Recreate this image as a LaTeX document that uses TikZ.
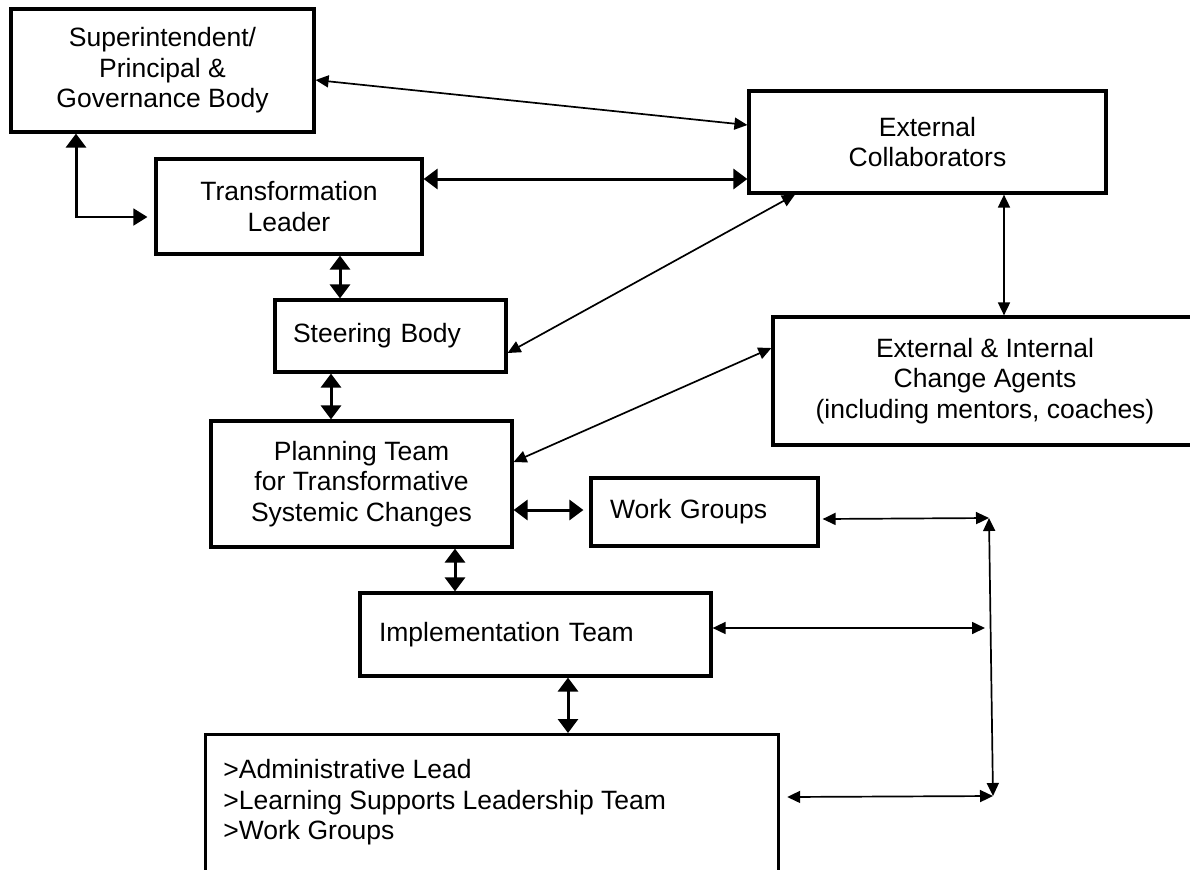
\documentclass[tikz,border=0pt]{standalone}
\usepackage{fontspec}
\setmainfont{Liberation Sans}
\usetikzlibrary{arrows.meta,calc}
\tikzset{
  box/.style={draw, line width=1.6pt, inner sep=0pt, align=center,
    font=\fontsize{13.25pt}{15.25pt}\selectfont},
  lbox/.style={box, align=left},
  txt/.style={inner sep=0pt, align=left, font=\fontsize{13.25pt}{15.25pt}\selectfont},
  thickarr/.style={line width=1.5pt,
    {Triangle[length=7pt,width=10pt]}-{Triangle[length=7pt,width=10pt]}},
  thinarr/.style={line width=0.85pt,
    {Triangle[length=6.5pt,width=6pt]}-{Triangle[length=6.5pt,width=6pt]}},
}
\begin{document}
\begin{tikzpicture}[x=0.5pt,y=-0.5pt]
\useasboundingbox (0,0) rectangle (1190,869);
\clip (0,0) rectangle (1190,869);

% boxes
\node[box, minimum width=151.5pt, minimum height=61.5pt] (supt) at (162.5,70.5)
  {Superintendent/\\Principal \&\\Governance Body};
\node[box, minimum width=133pt, minimum height=47.5pt] (tl) at (289,206.5)
  {Transformation\\Leader};
\node[box, minimum width=178.5pt, minimum height=51pt] (extc) at (927.5,142)
  {External\\Collaborators};
\node[box, minimum width=212pt, minimum height=64pt] (agents) at (985,381)
  {External \& Internal\\Change Agents\\(including mentors, coaches)};
\node[lbox, minimum width=115.5pt, minimum height=36pt, inner xsep=9pt, text width=97.5pt] (steer) at (390.5,336)
  {Steering Body};
\node[box, minimum width=150.5pt, minimum height=63pt] (plan) at (361.5,484)
  {Planning Team\\for Transformative\\Systemic Changes};
\node[lbox, minimum width=113.5pt, minimum height=34pt, inner xsep=9.5pt, text width=94.5pt] (wg) at (704.5,512)
  {Work Groups};
\node[lbox, minimum width=175.5pt, minimum height=41.5pt, inner xsep=9.5pt, text width=156.5pt] (impl) at (535.5,634.5)
  {Implementation Team};
\node[box, minimum width=286.5pt, minimum height=100pt, anchor=north west] (bottom) at (204,733) {};
\node[txt, anchor=north west] (bottomtext) at (223,759)
  {>Administrative Lead\\>Learning Supports Leadership Team\\>Work Groups};

% free ends
\coordinate (elbow) at (76,217);
\coordinate (ra) at (989,518);
\coordinate (rb) at (985,628);
\coordinate (rc) at (993,796);

% connectors
\draw[thinarr] (supt.east |- 0,80) -- (extc.west |- 0,125);
\draw[line width=1.5pt, -{Triangle[length=7pt,width=10pt]}] ($(elbow)+(0,1)$) -- (elbow |- supt.south);
\draw[line width=0.85pt, -{Triangle[length=7pt,width=8.5pt]}] (elbow) -- ($(tl.west |- elbow)+(-7,0)$);
\draw[thickarr] (tl.east |- 0,179) -- (extc.west |- 0,179);
\draw[thinarr] (steer.east |- 0,353) -- (extc.south -| 795,0);
\draw[thickarr] (tl.south -| 340,0) -- (steer.north -| 340,0);
\draw[thinarr] (extc.south -| 1004,0) -- (agents.north -| 1004,0);
\draw[thinarr] (plan.east |- 0,462) -- (agents.west |- 0,348);
\draw[thickarr] (plan.east |- 0,510) -- ($(wg.west |- 0,510)+(-6,0)$);
\draw[thickarr] (steer.south -| 331,0) -- (plan.north -| 331,0);
\draw[thickarr] (plan.south -| 455,0) -- (impl.north -| 455,0);
\draw[thickarr] (impl.south -| 568,0) -- (bottom.north -| 568,0);
\draw[thinarr] ($(wg.east |- 0,519)+(3,0)$) -- (ra);
\draw[thinarr] (impl.east |- rb) -- (rb);
\draw[thinarr] ($(bottom.east |- 0,797)+(7,0)$) -- (rc);
\draw[thinarr] (ra) -- (rc);
\end{tikzpicture}
\end{document}
